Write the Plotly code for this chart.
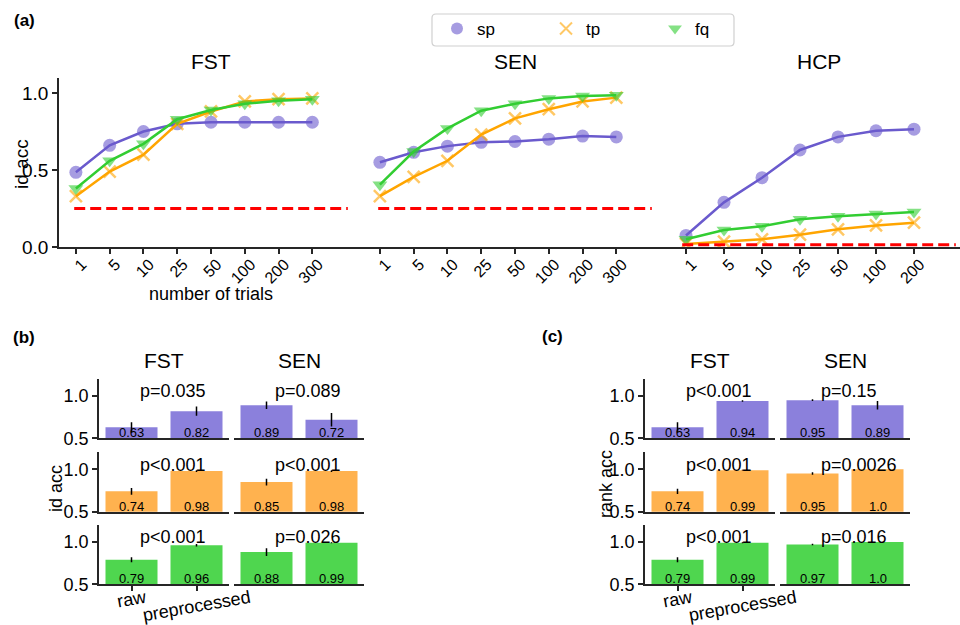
import plotly.graph_objects as go

# ---------------- data ----------------
trials_long = ["1", "5", "10", "25", "50", "100", "200", "300"]
trials_hcp = ["1", "5", "10", "25", "50", "100", "200"]

fst_sp = [0.485, 0.66, 0.75, 0.80, 0.81, 0.81, 0.81, 0.81]
fst_tp = [0.33, 0.49, 0.60, 0.80, 0.88, 0.945, 0.96, 0.965]
fst_fq = [0.38, 0.56, 0.67, 0.83, 0.89, 0.93, 0.95, 0.96]

sen_sp = [0.55, 0.615, 0.655, 0.68, 0.685, 0.70, 0.72, 0.715]
sen_tp = [0.33, 0.455, 0.56, 0.73, 0.835, 0.895, 0.945, 0.97]
sen_fq = [0.405, 0.62, 0.77, 0.885, 0.93, 0.965, 0.98, 0.985]

hcp_sp = [0.075, 0.29, 0.45, 0.63, 0.715, 0.755, 0.765]
hcp_tp = [0.02, 0.035, 0.05, 0.08, 0.115, 0.14, 0.158]
hcp_fq = [0.05, 0.11, 0.135, 0.18, 0.20, 0.215, 0.228]

chance = [0.25, 0.25, 0.015]

conditions = ["raw", "preprocessed"]

id_fst_sp = [0.63, 0.82]
id_fst_tp = [0.74, 0.98]
id_fst_fq = [0.79, 0.96]
id_sen_sp = [0.89, 0.72]
id_sen_tp = [0.85, 0.98]
id_sen_fq = [0.88, 0.99]
id_fst_sp_err = [0.06, 0.055]
id_fst_tp_err = [0.04, 0.01]
id_fst_fq_err = [0.03, 0.015]
id_sen_sp_err = [0.045, 0.08]
id_sen_tp_err = [0.04, 0.01]
id_sen_fq_err = [0.045, 0.005]
id_p_fst = ["p=0.035", "p<0.001", "p<0.001"]
id_p_sen = ["p=0.089", "p<0.001", "p=0.026"]

rank_fst_sp = [0.63, 0.94]
rank_fst_tp = [0.74, 0.99]
rank_fst_fq = [0.79, 0.99]
rank_sen_sp = [0.95, 0.89]
rank_sen_tp = [0.95, 1.0]
rank_sen_fq = [0.97, 1.0]
rank_fst_sp_err = [0.06, 0.01]
rank_fst_tp_err = [0.03, 0.005]
rank_fst_fq_err = [0.03, 0.005]
rank_sen_sp_err = [0.01, 0.05]
rank_sen_tp_err = [0.015, 0.0]
rank_sen_fq_err = [0.01, 0.0]
rank_p_fst = ["p<0.001", "p<0.001", "p<0.001"]
rank_p_sen = ["p=0.15", "p=0.0026", "p=0.016"]

features = ["sp", "tp", "fq"]

# ---------------- styling ----------------
W, H = 960, 625
FONT = "Liberation Sans, Arial, sans-serif"
AXC = "#262626"
LINE_COL = {"sp": "#6A5ACD", "tp": "#FFA500", "fq": "#32CD32"}
SYMBOL = {"sp": "circle", "tp": "x-thin", "fq": "triangle-down"}
BAR_COL = {"sp": "#8B80DC", "tp": "#FFB24F", "fq": "#4FD64F"}


def px(p):
    return p / W


def py(p):
    return 1 - p / H


def ids(k):
    if k == 1:
        return "xaxis", "yaxis", "x", "y"
    return f"xaxis{k}", f"yaxis{k}", f"x{k}", f"y{k}"


def label(text, xp, yp, size, angle=0, **kw):
    d = dict(text=text, xref="paper", yref="paper", x=px(xp), y=py(yp),
             xanchor="center", yanchor="middle", showarrow=False,
             textangle=angle, font=dict(size=size, color="black", family=FONT))
    d.update(kw)
    return d


def rounded_box(x0, y0, x1, y1, r):
    pts = [
        f"M {px(x0 + r)},{py(y0)}", f"L {px(x1 - r)},{py(y0)}",
        f"Q {px(x1)},{py(y0)} {px(x1)},{py(y0 + r)}", f"L {px(x1)},{py(y1 - r)}",
        f"Q {px(x1)},{py(y1)} {px(x1 - r)},{py(y1)}", f"L {px(x0 + r)},{py(y1)}",
        f"Q {px(x0)},{py(y1)} {px(x0)},{py(y1 - r)}", f"L {px(x0)},{py(y0 + r)}",
        f"Q {px(x0)},{py(y0)} {px(x0 + r)},{py(y0)}", "Z",
    ]
    return " ".join(pts)


fig = go.Figure()
layout = {}
annotations = []
shapes = []

# ---------------- panel (a) ----------------
a_panels = [
    ("FST", trials_long, [fst_sp, fst_tp, fst_fq], 59, 363),
    ("SEN", trials_long, [sen_sp, sen_tp, sen_fq], 363, 667),
    ("HCP", trials_hcp, [hcp_sp, hcp_tp, hcp_fq], 667, 971),
]
k = 0
for i, (name, trials, series, x0p, x1p) in enumerate(a_panels):
    k += 1
    xa, ya, xid, yid = ids(k)
    n = len(trials)
    nominal = x1p - x0p
    actual = min(x1p, W) - x0p
    unit = nominal / (n + 1)
    xr = [-0.5, -0.5 + actual / unit]
    for f, vals in zip(features, series):
        fig.add_trace(go.Scatter(
            x=trials, y=vals, mode="lines", xaxis=xid, yaxis=yid,
            line=dict(color=LINE_COL[f], width=2.5), showlegend=False,
            hoverinfo="skip"))
        mk = dict(symbol=SYMBOL[f], size=13, color=LINE_COL[f], opacity=0.6)
        if f == "tp":
            mk["line"] = dict(color=LINE_COL[f], width=2.5)
            mk["size"] = 12
        fig.add_trace(go.Scatter(
            x=trials, y=vals, mode="markers", xaxis=xid, yaxis=yid,
            marker=mk, name=f, showlegend=(i == 0)))
    layout[xa] = dict(
        domain=[px(x0p), px(min(x1p, W))], type="category", range=xr,
        showline=True, linecolor=AXC, linewidth=1.5, ticks="outside",
        ticklen=5, tickwidth=1.5, tickcolor=AXC, tickangle=-45,
        tickfont=dict(size=16, color="black", family=FONT),
        showgrid=False, zeroline=False, anchor=yid, automargin=False,
        ticklabelshift=6, ticklabelstandoff=-5)
    ydict = dict(domain=[py(247), py(77.6)], range=[0, 1.1], anchor=xid,
                 showgrid=False, zeroline=False, automargin=False)
    if i == 0:
        ydict.update(showline=True, linecolor=AXC, linewidth=1.5,
                     ticks="outside", ticklen=5, tickwidth=1.5, tickcolor=AXC,
                     tickvals=[0, 0.5, 1.0], ticktext=["0.0", "0.5", "1.0"],
                     tickfont=dict(size=19, color="black", family=FONT))
    else:
        ydict.update(showline=False, showticklabels=False, ticks="")
    layout[ya] = ydict
    # chance level line (axhline with xmin=0.05, xmax=0.95)
    shapes.append(dict(
        type="line", xref=f"{xid} domain", yref=yid,
        x0=0.05 * nominal / actual, x1=0.95 * nominal / actual,
        y0=chance[i], y1=chance[i],
        line=dict(color="red", width=3, dash="11px,5px")))
    annotations.append(label(name, (x0p + x1p) / 2, 61, 21))

annotations.append(label("number of trials", 211, 294, 18))
annotations.append(label("id acc", 22, 164, 19, angle=-90))

# legend frame
shapes.append(dict(type="path", xref="paper", yref="paper",
                   path=rounded_box(432, 14, 734, 46, 4),
                   fillcolor="rgba(255,255,255,0.8)",
                   line=dict(color="#D0D0D0", width=1.2), layer="above"))

# ---------------- panels (b) and (c) ----------------
row_base = [438.3, 511.7, 584.3]
row_h = 59.3

panels_bc = [
    dict(cols=[(99, 229), (234, 364)],
         vals=[[id_fst_sp, id_fst_tp, id_fst_fq], [id_sen_sp, id_sen_tp, id_sen_fq]],
         errs=[[id_fst_sp_err, id_fst_tp_err, id_fst_fq_err],
               [id_sen_sp_err, id_sen_tp_err, id_sen_fq_err]],
         ptxt=[id_p_fst, id_p_sen], ylabel="id acc", ylab_pos=(56, 489),
         tag="(b)", tag_pos=(24, 338)),
    dict(cols=[(645, 775), (780, 910)],
         vals=[[rank_fst_sp, rank_fst_tp, rank_fst_fq], [rank_sen_sp, rank_sen_tp, rank_sen_fq]],
         errs=[[rank_fst_sp_err, rank_fst_tp_err, rank_fst_fq_err],
               [rank_sen_sp_err, rank_sen_tp_err, rank_sen_fq_err]],
         ptxt=[rank_p_fst, rank_p_sen], ylabel="rank acc", ylab_pos=(606, 484),
         tag="(c)", tag_pos=(552, 336)),
]
col_titles = ["FST", "SEN"]

for pan in panels_bc:
    for c, (cx0, cx1) in enumerate(pan["cols"]):
        annotations.append(label(col_titles[c], (cx0 + cx1) / 2, 360, 21))
        for r, f in enumerate(features):
            k += 1
            xa, ya, xid, yid = ids(k)
            vals = pan["vals"][c][r]
            errs = pan["errs"][c][r]
            fig.add_trace(go.Bar(
                x=conditions, y=vals, xaxis=xid, yaxis=yid, width=0.8,
                marker=dict(color=BAR_COL[f], line=dict(width=0)),
                error_y=dict(type="data", array=errs, visible=True,
                             thickness=1.5, width=0, color="black"),
                showlegend=False, hoverinfo="skip"))
            xdict = dict(domain=[px(cx0), px(cx1)], type="category",
                         range=[-0.5, 1.5], showline=True, linecolor=AXC,
                         linewidth=1.5, showgrid=False, zeroline=False,
                         showticklabels=False, anchor=yid, automargin=False)
            if c == 0 and r == 2:
                xdict.update(ticks="outside", ticklen=5, tickwidth=1.5, tickcolor=AXC)
            else:
                xdict.update(ticks="")
            layout[xa] = xdict
            ydict = dict(domain=[py(row_base[r]), py(row_base[r] - row_h)],
                         range=[0.5, 1.2], anchor=xid, showgrid=False,
                         zeroline=False, automargin=False)
            if c == 0:
                ydict.update(showline=True, linecolor=AXC, linewidth=1.5,
                             ticks="outside", ticklen=5, tickwidth=1.5,
                             tickcolor=AXC, tickvals=[0.5, 1.0],
                             ticktext=["0.5", "1.0"],
                             tickfont=dict(size=18, color="black", family=FONT))
            else:
                ydict.update(showline=False, showticklabels=False, ticks="")
            layout[ya] = ydict
            for j, v in enumerate(vals):
                annotations.append(dict(
                    text=str(round(v, 2)), xref=xid, yref=yid, x=j, y=0.566,
                    xanchor="center", yanchor="middle", showarrow=False,
                    font=dict(size=13, color="black", family=FONT)))
            annotations.append(dict(
                text=pan["ptxt"][c][r], xref=xid, yref=yid, x=0.1, y=1.055,
                xanchor="left", yanchor="middle", showarrow=False,
                font=dict(size=18, color="black", family=FONT)))
            if c == 0 and r == 2:
                for j, lab in enumerate(conditions):
                    annotations.append(dict(
                        text=lab, xref=xid, yref="paper", x=j, y=py(584),
                        xanchor="center", yanchor="top", showarrow=False,
                        textangle=-10,
                        font=dict(size=18, color="black", family=FONT)))
    yl = pan["ylab_pos"]
    annotations.append(label(pan["ylabel"], yl[0], yl[1], 18, angle=-90))
    tp_ = pan["tag_pos"]
    annotations.append(label("<b>" + pan["tag"] + "</b>", tp_[0], tp_[1], 17))

annotations.append(label("<b>(a)</b>", 24, 21, 17))

layout.update(
    width=W, height=H, margin=dict(l=0, r=0, t=0, b=0, autoexpand=False),
    paper_bgcolor="white", plot_bgcolor="rgba(0,0,0,0)",
    font=dict(family=FONT, color="black"),
    showlegend=True,
    legend=dict(orientation="h", x=px(437), y=py(11), xanchor="left",
                yanchor="top", borderwidth=0,
                bgcolor="rgba(0,0,0,0)", font=dict(size=17, family=FONT),
                entrywidth=64, entrywidthmode="pixels", itemsizing="constant"),
    annotations=annotations, shapes=shapes, bargap=0.2,
)
fig.update_layout(**layout)
fig.write_html("out.html", config={"displayModeBar": False},
               post_script="document.body.style.margin='0';")
